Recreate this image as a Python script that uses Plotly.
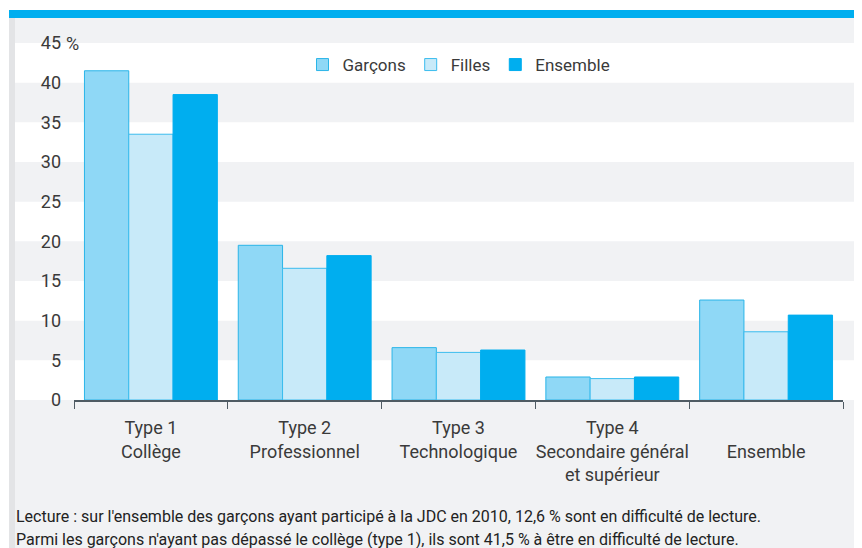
import plotly.graph_objects as go

categories = ["Type 1<br>Collège", "Type 2<br>Professionnel", "Type 3<br>Technologique",
              "Type 4<br>Secondaire général<br>et supérieur", " <br>Ensemble"]
garcons = [41.5, 19.5, 6.6, 2.9, 12.6]
filles = [33.5, 16.6, 6.0, 2.7, 8.6]
ensemble = [38.5, 18.2, 6.3, 2.9, 10.7]
series_names = ["Garçons", "Filles", "Ensemble"]
y_tickvals = [0, 5, 10, 15, 20, 25, 30, 35, 40, 45]
y_ticktext = ["0", "5", "10", "15", "20", "25", "30", "35", "40", "45"]
caption_1 = "Lecture : sur l'ensemble des garçons ayant participé à la JDC en 2010, 12,6 % sont en difficulté de lecture."
caption_2 = "Parmi les garçons n'ayant pas dépassé le collège (type 1), ils sont 41,5 % à être en difficulté de lecture."

FONT = "Roboto, Liberation Sans, sans-serif"
TXT = "#3a3a3a"
GREY = "#f1f2f4"

# page body has an 8px margin: lay out in reference pixels, shifted by OFF
OFF = 8
W, H = 862 - OFF, 548 - OFF
PL, PT, PR, PB = 74, 43, 843, 400          # plot area in reference pixels
ML, MT = PL - OFF, PT - OFF
MR, MB = W - (PR - OFF), H - (PB - OFF)
PW, PH = W - ML - MR, H - MT - MB

def px(x):
    return (x - OFF - ML) / PW

def py(y):
    return (H - MB - (y - OFF)) / PH

fills = ["#8fd8f6", "#c8eaf9", "#00aeef"]
borders = ["#2ab5e8", "#3bbcee", "#00aeef"]

fig = go.Figure()
for name, vals, f, b in zip(series_names, [garcons, filles, ensemble], fills, borders):
    fig.add_trace(go.Bar(x=categories, y=vals, name=name,
                         marker=dict(color=f, line=dict(color=b, width=1))))

shapes = [
    dict(type="rect", xref="paper", yref="paper", x0=px(15), x1=px(870), y0=py(560), y1=py(18),
         fillcolor=GREY, line_width=0, layer="below"),
    dict(type="rect", xref="paper", yref="paper", x0=px(9), x1=px(15), y0=py(560), y1=py(18),
         fillcolor="#e3e4e6", line_width=0, layer="below"),
    dict(type="rect", xref="paper", yref="paper", x0=px(9), x1=px(870), y0=py(18), y1=py(10),
         fillcolor="#00aeef", line_width=0, layer="below"),
]
for lo in [0, 10, 20, 30, 40]:
    shapes.append(dict(type="rect", xref="paper", yref="y", x0=px(15), x1=px(870), y0=lo, y1=lo + 5,
                       fillcolor="white", line_width=0, layer="below"))

fig.update_layout(
    width=W, height=H,
    margin=dict(l=ML, r=MR, t=MT, b=MB, autoexpand=False),
    paper_bgcolor="white",
    plot_bgcolor="rgba(0,0,0,0)",
    barmode="group", bargap=0.136, bargroupgap=0,
    font=dict(family=FONT, size=17, color=TXT),
    shapes=shapes,
    showlegend=True,
    legend=dict(orientation="h", x=px(459), y=py(65), xanchor="center", yanchor="middle",
                bgcolor="rgba(0,0,0,0)", font=dict(size=17, color=TXT),
                itemwidth=30, tracegroupgap=0),
    xaxis=dict(showgrid=False, showline=True, linecolor="#4f5b63", linewidth=1.5,
               ticks="outside", ticklen=7, tickcolor="#4f5b63", tickson="boundaries",
               tickangle=0, ticklabelstandoff=11, tickfont=dict(size=18, color=TXT),
               fixedrange=True),
    yaxis=dict(range=[0, 45], tickvals=y_tickvals, ticktext=y_ticktext, showgrid=False,
               zeroline=False, showline=False, ticks="", ticklabelstandoff=12,
               tickfont=dict(size=18, color=TXT), fixedrange=True),
    annotations=[
        dict(text="%", xref="paper", yref="y", x=px(64), y=45, xanchor="left", yanchor="middle",
             showarrow=False, font=dict(size=18, color=TXT)),
        dict(text=caption_1, xref="paper", yref="paper", x=px(14), y=py(516), xanchor="left",
             yanchor="middle", showarrow=False, font=dict(size=16, color="#222")),
        dict(text=caption_2, xref="paper", yref="paper", x=px(14), y=py(539), xanchor="left",
             yanchor="middle", showarrow=False, font=dict(size=16, color="#222")),
    ],
)

fig.write_html("out.html")
